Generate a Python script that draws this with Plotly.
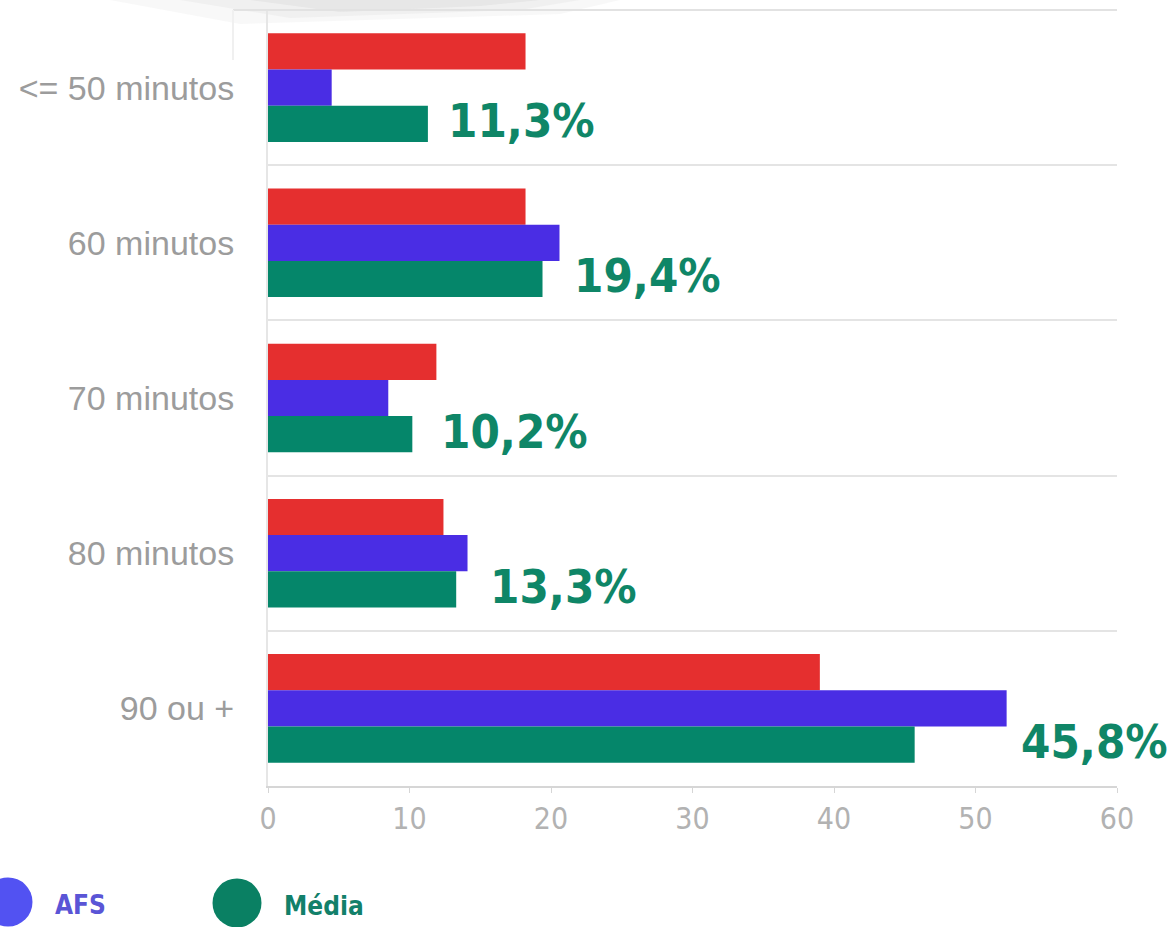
import plotly.graph_objects as go

# ---- data ----
categories = ["<= 50 minutos", "60 minutos", "70 minutos", "80 minutos", "90 ou +"]
series_names = ["Outros", "AFS", "Média"]
red_values = [18.2, 18.2, 11.9, 12.4, 39.0]
afs_values = [4.5, 20.6, 8.5, 14.1, 52.2]
media_values = [11.3, 19.4, 10.2, 13.3, 45.7]
media_labels = ["11,3%", "19,4%", "10,2%", "13,3%", "45,8%"]
x_ticks = [0, 10, 20, 30, 40, 50, 60]

# ---- style ----
bar_colors = ["#e52f2f", "#4a2de4", "#05866a"]
legend_dot_colors = {"AFS": "#5252f2", "Média": "#0a8063"}
legend_text_colors = {"AFS": "#5a55d6", "Média": "#12806a"}
label_color = "#0f8667"
label_shift = [1.3, 2.05, 1.9, 2.25, 7.4]   # x-gap (data units) between green bar end and its label
cond_font = "DejaVu Sans Condensed, Liberation Sans Narrow, Arial Narrow, sans-serif"

W, H = 1172, 927
L, R, T, B = 268, 55, 10, 141
pw, ph = W - L - R, H - T - B

fig = go.Figure()
for name, vals, col in zip(series_names, [red_values, afs_values, media_values], bar_colors):
    fig.add_trace(go.Bar(
        y=categories, x=vals, orientation="h", name=name,
        marker=dict(color=col, line=dict(width=0)),
        showlegend=False, hoverinfo="x+y",
    ))

# value labels next to the green bars
for cat, v, txt, s in zip(categories, media_values, media_labels, label_shift):
    fig.add_annotation(
        x=v + s, y=cat, xref="x", yref="y", text=txt, showarrow=False,
        xanchor="left", yanchor="middle", yshift=-33,
        font=dict(family=cond_font, size=47, color=label_color, weight="bold"),
    )

def px_to_paper(px, py):
    return (px - L) / pw, (H - B - py) / ph

# custom legend (bottom, partly out of view)
legend_px = {"AFS": (8, 902), "Média": (237, 903)}
r = 24.5
for name in series_names:
    if name not in legend_px:
        continue
    cx, cy = legend_px[name]
    x0, y0 = px_to_paper(cx - r, cy + r)
    x1, y1 = px_to_paper(cx + r, cy - r)
    fig.add_shape(type="circle", xref="paper", yref="paper", x0=x0, x1=x1, y0=y0, y1=y1,
                  fillcolor=legend_dot_colors[name], line=dict(width=0), layer="above")
    tx, ty = px_to_paper(cx + 45, cy + 3)
    fig.add_annotation(x=tx, y=ty, xref="paper", yref="paper", text=name, showarrow=False,
                       xanchor="left", yanchor="middle",
                       font=dict(family=cond_font, size=26, color=legend_text_colors[name], weight="bold"))

# faint paper-curl shadow at top-left (layers of soft gray)
for (ax, ay, bx, by, cx2, cy2, dx, dy), op in [
    ((110, 0, 620, 0, 560, 14, 240, 24), 0.05),
    ((180, 0, 580, 0, 520, 10, 290, 18), 0.06),
    ((250, 0, 540, 0, 480, 6, 340, 12), 0.07),
]:
    pts = [px_to_paper(ax, ay), px_to_paper(bx, by), px_to_paper(cx2, cy2), px_to_paper(dx, dy)]
    path = "M {} {} L {} {} L {} {} L {} {} Z".format(*[c for p in pts for c in p])
    fig.add_shape(type="path", xref="paper", yref="paper", path=path,
                  fillcolor=f"rgba(120,120,120,{op})", line=dict(width=0), layer="below")

# top border line and small panel edge
lx0, ly0 = px_to_paper(233, 10)
fig.add_shape(type="line", xref="paper", yref="paper", x0=lx0, x1=1, y0=ly0, y1=ly0,
              line=dict(color="#e2e2e2", width=2))
_, ly1 = px_to_paper(233, 60)
fig.add_shape(type="line", xref="paper", yref="paper", x0=lx0, x1=lx0, y0=ly0, y1=ly1,
              line=dict(color="#f0f0f0", width=2))

fig.update_layout(
    width=W, height=H,
    margin=dict(l=L, r=R, t=T, b=B, pad=0),
    paper_bgcolor="white", plot_bgcolor="white",
    barmode="group", bargap=0.30, bargroupgap=0,
    showlegend=False,
    xaxis=dict(
        range=[0, 60], tickvals=x_ticks, ticktext=[str(t) for t in x_ticks],
        showgrid=False, zeroline=False,
        showline=True, linecolor="#d6d6d6", linewidth=2,
        ticks="outside", ticklen=5, tickcolor="#d6d6d6", tickwidth=1,
        tickfont=dict(family=cond_font, size=30, color="#b2b2b2"),
        fixedrange=True,
    ),
    yaxis=dict(
        type="category", categoryorder="array", categoryarray=categories,
        autorange="reversed", tickson="boundaries",
        showgrid=True, gridcolor="#e4e4e4", gridwidth=2,
        showline=True, linecolor="#e6e6e6", linewidth=2,
        ticks="", ticklabelstandoff=25,
        tickfont=dict(family="Liberation Sans, Arial, sans-serif", size=34, color="#9c9c9c"),
        fixedrange=True,
    ),
)

fig.write_html("out.html", config={"displayModeBar": False},
               post_script="document.body.style.margin='0px';document.body.style.overflow='hidden';")
